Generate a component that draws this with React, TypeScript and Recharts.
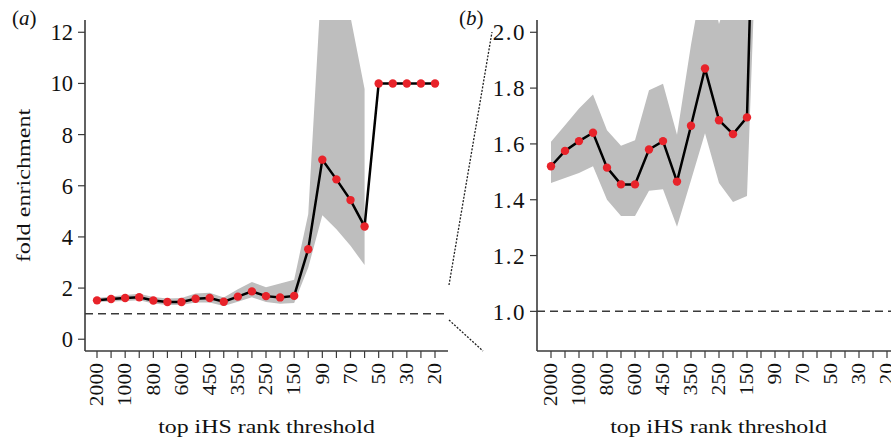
import React from "react";
import {
  ComposedChart,
  Line,
  Area,
  XAxis,
  YAxis,
  ReferenceLine,
} from "recharts";

// rank thresholds along the x axis (every other one is labelled)
const thresholds = [
  "2000", "1500", "1000", "900", "800", "700", "600", "500", "450", "400",
  "350", "300", "250", "200", "150", "100", "90", "80", "70", "60",
  "50", "40", "30", "25", "20",
];

const foldEnrichment = [
  1.52, 1.575, 1.61, 1.64, 1.515, 1.455, 1.455, 1.58, 1.61, 1.465,
  1.665, 1.87, 1.685, 1.635, 1.695, 3.52, 7.02, 6.25, 5.44, 4.41,
  10, 10, 10, 10, 10,
];

const bandLow: (number | null)[] = [
  1.46, 1.478, 1.496, 1.52, 1.4, 1.342, 1.342, 1.432, 1.438, 1.303,
  1.47, 1.638, 1.46, 1.392, 1.413, 2.8, 4.85, 4.3, 3.65, 2.9,
  null, null, null, null, null,
];

const bandHigh: (number | null)[] = [
  1.608, 1.667, 1.727, 1.777, 1.649, 1.593, 1.613, 1.792, 1.816, 1.633,
  1.955, 2.24, 2.03, 2.18, 2.33, 4.9, 14.6, 14.0, 12.6, 9.78,
  null, null, null, null, null,
];

const ticksA = [0, 2, 4, 6, 8, 10, 12];
const ticksB = [1.0, 1.2, 1.4, 1.6, 1.8, 2.0];

const rows = thresholds.map((t, i) => ({
  threshold: t,
  fold: foldEnrichment[i],
  band: bandLow[i] == null ? null : [bandLow[i], bandHigh[i]],
}));

const SERIF = "'Liberation Serif', 'Times New Roman', serif";
const INK = "#111";
const AXIS = "#3a3a3a";

function RotatedTick(props: any) {
  const { x, y, payload, index } = props;
  if (index % 2 === 1) return <g />;
  return (
    <text
      transform={`translate(${x},${y + 3}) rotate(-90) scale(1.2,1)`}
      textAnchor="end"
      dy="0.35em"
      fontSize={18}
      fontFamily={SERIF}
      fill={INK}
    >
      {payload.value}
    </text>
  );
}

function Panel({
  width,
  yWidth,
  rightMargin,
  padding,
  domain,
  ticks,
  fmt,
  tickMargin,
  tickStyle,
}: {
  width: number;
  yWidth: number;
  rightMargin: number;
  padding: { left: number; right: number };
  domain: [number, number];
  ticks: number[];
  fmt: (v: number) => string;
  tickMargin: number;
  tickStyle: any;
}) {
  return (
    <ComposedChart
      width={width}
      height={441}
      data={rows}
      margin={{ top: 20, right: rightMargin, bottom: 0, left: 0 }}
    >
      <XAxis
        dataKey="threshold"
        scale="point"
        interval={0}
        padding={padding}
        height={90}
        tickSize={7}
        tick={<RotatedTick />}
        axisLine={{ stroke: AXIS, strokeWidth: 1.6 }}
        tickLine={{ stroke: AXIS, strokeWidth: 1.2 }}
      />
      <XAxis
        xAxisId="top"
        orientation="top"
        dataKey="threshold"
        height={0}
        tick={false}
        tickLine={false}
        axisLine={{ stroke: AXIS, strokeWidth: 1.6 }}
      />
      <YAxis
        type="number"
        domain={domain}
        allowDataOverflow
        ticks={ticks}
        interval={0}
        width={yWidth}
        tickSize={7}
        tickMargin={tickMargin}
        tickFormatter={fmt}
        tick={{ fontFamily: SERIF, fill: INK, ...tickStyle }}
        axisLine={{ stroke: AXIS, strokeWidth: 1.6 }}
        tickLine={{ stroke: AXIS, strokeWidth: 1.2 }}
      />
      <YAxis
        yAxisId="right"
        orientation="right"
        width={0}
        tick={false}
        tickLine={false}
        axisLine={{ stroke: AXIS, strokeWidth: 1.6 }}
      />
      <Area
        type="linear"
        dataKey="band"
        stroke="none"
        fill="#bebebe"
        fillOpacity={1}
        activeDot={false}
        isAnimationActive={false}
      />
      <ReferenceLine
        y={1}
        stroke="#3a3a3a"
        strokeWidth={1.5}
        strokeDasharray="8 5"
      />
      <Line
        type="linear"
        dataKey="fold"
        stroke="#000"
        strokeWidth={2.5}
        dot={{ r: 4.2, fill: "#e8232a", stroke: "none" }}
        activeDot={false}
        isAnimationActive={false}
      />
    </ComposedChart>
  );
}

export default function App() {
  return (
    <div
      style={{
        position: "absolute",
        left: 0,
        top: 0,
        width: 891,
        height: 441,
        overflow: "hidden",
        background: "#fff",
      }}
    >
      <div style={{ position: "absolute", left: 0, top: 0 }}>
        <Panel
          width={460}
          yWidth={85}
          rightMargin={12}
          padding={{ left: 12, right: 13 }}
          domain={[-0.46, 12.48]}
          ticks={ticksA}
          fmt={(v) => String(v)}
          tickMargin={5}
          tickStyle={{ fontSize: 22.5 }}
        />
      </div>
      <div style={{ position: "absolute", left: 450, top: 0 }}>
        <Panel
          width={450}
          yWidth={87}
          rightMargin={0}
          padding={{ left: 14, right: 13 }}
          domain={[0.858, 2.044]}
          ticks={ticksB}
          fmt={(v) => v.toFixed(1)}
          tickMargin={4}
          tickStyle={{ fontSize: 23, letterSpacing: 1.5 }}
        />
      </div>
      <svg
        width={891}
        height={441}
        style={{ position: "absolute", left: 0, top: 0, pointerEvents: "none" }}
        fontFamily={SERIF}
        fill={INK}
      >
        <text x={12} y={25} fontSize={21}>
          (<tspan fontStyle="italic">a</tspan>)
        </text>
        <text x={459} y={25} fontSize={21}>
          (<tspan fontStyle="italic">b</tspan>)
        </text>
        <text
          transform="translate(30,185.5) rotate(-90) scale(1.27,1)"
          textAnchor="middle"
          fontSize={19}
        >
          fold enrichment
        </text>
        <text
          transform="translate(266.5,433) scale(1.29,1)"
          textAnchor="middle"
          fontSize={18.5}
        >
          top iHS rank threshold
        </text>
        <text
          transform="translate(718.5,433) scale(1.29,1)"
          textAnchor="middle"
          fontSize={18.5}
        >
          top iHS rank threshold
        </text>
        <line x1={449} y1={285} x2={492} y2={32} stroke="#222" strokeWidth={1.3} strokeDasharray="2 1.5" />
        <line x1={449} y1={320} x2={483} y2={351} stroke="#222" strokeWidth={1.3} strokeDasharray="2 1.5" />
      </svg>
    </div>
  );
}
